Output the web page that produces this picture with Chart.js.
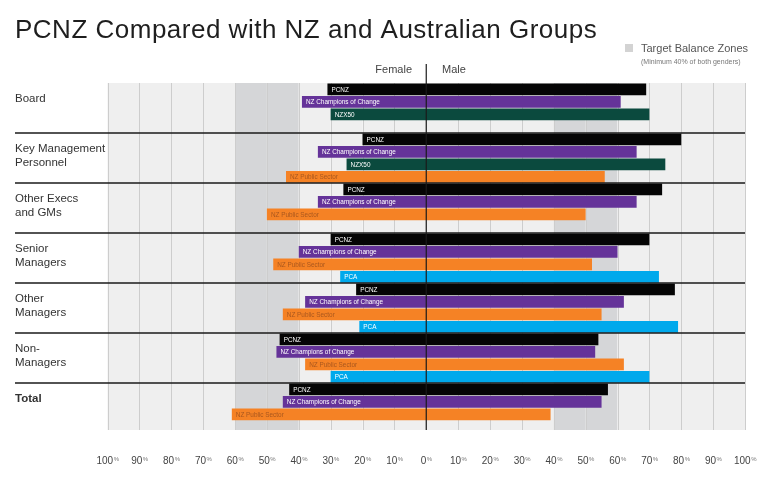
<!DOCTYPE html>
<html>
<head>
<meta charset="utf-8">
<title>PCNZ Compared with NZ and Australian Groups</title>
<script src="https://cdn.jsdelivr.net/npm/chart.js@4/dist/chart.umd.min.js"></script>
<style>
    body { margin: 0; background: #fff; }
    canvas { display: block; }
</style>
</head>
<body>
<canvas id="genderChart" width="768" height="478"></canvas>
<script>
const groups = ['Board', 'Key Management\nPersonnel', 'Other Execs\nand GMs', 'Senior\nManagers', 'Other\nManagers', 'Non-\nManagers', 'Total'];
const seriesNames = ['PCNZ', 'NZ Champions of Change', 'NZX50', 'NZ Public Sector', 'PCA'];

// female % (drawn to the left) and male % (to the right), one entry per group
const pcnzFemale = [31, 20, 26, 30, 22, 46, 43];
const pcnzMale = [69, 80, 74, 70, 78, 54, 57];
const cocFemale = [39, 34, 34, 40, 38, 47, 45];
const cocMale = [61, 66, 66, 60, 62, 53, 55];
const nzx50Female = [30, 25, null, null, null, null, null];
const nzx50Male = [70, 75, null, null, null, null, null];
const publicFemale = [null, 44, 50, 48, 45, 38, 61];
const publicMale = [null, 56, 50, 52, 55, 62, 39];
const pcaFemale = [null, null, null, 27, 21, 30, null];
const pcaMale = [null, null, null, 73, 79, 70, null];

const tickValues = [-100, -90, -80, -70, -60, -50, -40, -30, -20, -10, 0, 10, 20, 30, 40, 50, 60, 70, 80, 90, 100];
const targetZones = [[-60, -40], [40, 60]];

const colors = ['#050505', '#653399', '#0b4a3e', '#f58225', '#00a9ec'];
const labelColors = ['#fff', '#fff', '#fff', '#a9571e', '#fff'];
const ROWS = 4;

document.addEventListener('DOMContentLoaded', function () {
    drawChart();
});

function buildDatasets() {
    const femaleSets = [pcnzFemale, cocFemale, nzx50Female, publicFemale, pcaFemale];
    const maleSets = [pcnzMale, cocMale, nzx50Male, publicMale, pcaMale];
    const rowCount = groups.length * ROWS;
    const datasets = seriesNames.map((name, s) => ({
        label: name,
        data: new Array(rowCount).fill(null),
        backgroundColor: colors[s],
        barPercentage: 0.94,
        categoryPercentage: 1
    }));
    groups.forEach((g, gi) => {
        let row = 0;
        seriesNames.forEach((name, s) => {
            if (femaleSets[s][gi] == null) return;
            datasets[s].data[gi * ROWS + row] = [-femaleSets[s][gi], maleSets[s][gi]];
            row++;
        });
    });
    return datasets;
}

const backdrop = {
    id: 'backdrop',
    beforeDatasetsDraw(chart) {
        const ctx = chart.ctx;
        const x = chart.scales.x;
        const area = chart.chartArea;
        const bottom = area.bottom - 3;
        ctx.save();
        for (let i = 0; i < tickValues.length - 1; i++) {
            const a = tickValues[i], b = tickValues[i + 1];
            const inZone = targetZones.some(z => a >= z[0] && b <= z[1]);
            ctx.fillStyle = inZone ? '#d5d6d8' : '#efefef';
            ctx.fillRect(x.getPixelForValue(a), area.top, x.getPixelForValue(b) - x.getPixelForValue(a), bottom - area.top);
        }
        ctx.strokeStyle = '#cdcdcd';
        ctx.lineWidth = 1;
        tickValues.forEach(v => {
            const px = Math.round(x.getPixelForValue(v)) + 0.5;
            ctx.beginPath();
            ctx.moveTo(px, area.top);
            ctx.lineTo(px, bottom);
            ctx.stroke();
        });
        ctx.restore();
    },
    afterDatasetsDraw(chart) {
        const ctx = chart.ctx;
        const x = chart.scales.x;
        const y = chart.scales.y;
        const area = chart.chartArea;
        ctx.save();

        // bar captions
        ctx.font = '500 6.4px "Liberation Sans", Arial, sans-serif';
        ctx.textBaseline = 'middle';
        ctx.textAlign = 'left';
        chart.data.datasets.forEach((ds, s) => {
            chart.getDatasetMeta(s).data.forEach((el, i) => {
                if (ds.data[i] == null) return;
                ctx.fillStyle = labelColors[s];
                ctx.fillText(ds.label, Math.min(el.x, el.base) + 4, el.y + 0.5);
            });
        });

        // group separators and names
        ctx.strokeStyle = '#1a1a1a';
        ctx.lineWidth = 1.3;
        groups.forEach((g, gi) => {
            let top = area.top;
            if (gi > 0) {
                top = (y.getPixelForValue(gi * ROWS - 1) + y.getPixelForValue(gi * ROWS)) / 2;
                ctx.beginPath();
                ctx.moveTo(15, top);
                ctx.lineTo(x.getPixelForValue(100), top);
                ctx.stroke();
            }
            ctx.fillStyle = '#333';
            ctx.font = (g === 'Total' ? 'bold ' : '') + '11.5px "Liberation Sans", Arial, sans-serif';
            g.split('\n').forEach((line, li) => {
                ctx.fillText(line, 15, top + 16 + li * 13.5);
            });
        });

        // centre line
        const cx = x.getPixelForValue(0);
        ctx.lineWidth = 1.2;
        ctx.beginPath();
        ctx.moveTo(cx, 64);
        ctx.lineTo(cx, area.bottom - 3);
        ctx.stroke();

        // percent ticks along the bottom
        tickValues.forEach(v => {
            const num = String(Math.abs(v));
            ctx.font = '10px "Liberation Sans", Arial, sans-serif';
            const w1 = ctx.measureText(num).width;
            ctx.font = '6px "Liberation Sans", Arial, sans-serif';
            const w2 = ctx.measureText('%').width;
            const left = x.getPixelForValue(v) - (w1 + w2) / 2;
            ctx.fillStyle = '#444';
            ctx.font = '10px "Liberation Sans", Arial, sans-serif';
            ctx.fillText(num, left, 461);
            ctx.fillStyle = '#777';
            ctx.font = '6px "Liberation Sans", Arial, sans-serif';
            ctx.fillText('%', left + w1 + 0.5, 459);
        });
        ctx.restore();
    },
    afterDraw(chart) {
        const ctx = chart.ctx;
        ctx.save();
        ctx.textBaseline = 'alphabetic';
        ctx.fillStyle = '#1e1e1e';
        ctx.font = '26px "Liberation Sans", Arial, sans-serif';
        ctx.letterSpacing = '0.5px';
        ctx.fillText('PCNZ Compared with NZ and Australian Groups', 15, 37.5);
        ctx.letterSpacing = '0px';

        ctx.textBaseline = 'middle';
        ctx.font = '11px "Liberation Sans", Arial, sans-serif';
        ctx.fillStyle = '#444';
        ctx.textAlign = 'right';
        ctx.fillText('Female', 412, 70);
        ctx.textAlign = 'left';
        ctx.fillText('Male', 442, 70);

        ctx.fillStyle = '#d3d3d3';
        ctx.fillRect(625, 44, 8, 8);
        ctx.fillStyle = '#555';
        ctx.font = '11px "Liberation Sans", Arial, sans-serif';
        ctx.fillText('Target Balance Zones', 641, 49);
        ctx.fillStyle = '#777';
        ctx.font = '7px "Liberation Sans", Arial, sans-serif';
        ctx.fillText('(Minimum 40% of both genders)', 641, 62);
        ctx.restore();
    }
};

function drawChart() {
    const ctx = document.getElementById('genderChart').getContext('2d');
    const rowLabels = [];
    groups.forEach((g, gi) => {
        for (let r = 0; r < ROWS; r++) rowLabels.push(gi + '-' + r);
    });
    new Chart(ctx, {
        type: 'bar',
        data: {
            labels: rowLabels,
            datasets: buildDatasets()
        },
        options: {
            indexAxis: 'y',
            responsive: false,
            animation: false,
            grouped: false,
            layout: {
                padding: { top: 83, bottom: 45, left: 107.5, right: 23 }
            },
            scales: {
                x: { min: -100, max: 100, display: false },
                y: { display: false }
            },
            plugins: {
                legend: { display: false },
                tooltip: { enabled: false }
            }
        },
        plugins: [backdrop]
    });
}
</script>
</body>
</html>
